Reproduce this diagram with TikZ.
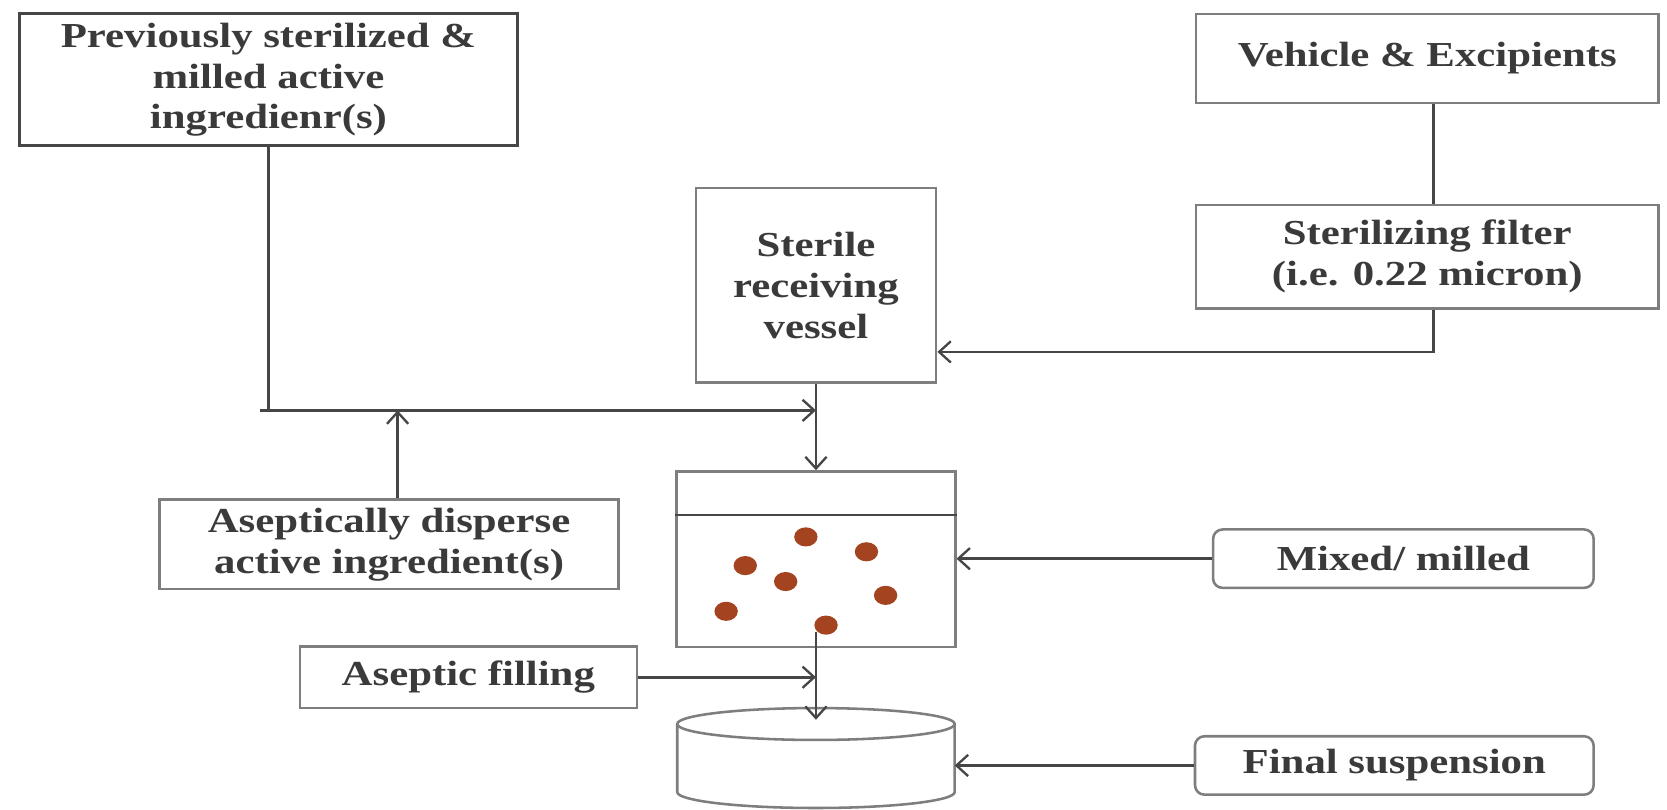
\documentclass[tikz,border=0pt]{standalone}
\usepackage{fontspec}
\setmainfont{Liberation Serif}[FakeStretch=1.22]
\usetikzlibrary{arrows.meta}
\definecolor{ink}{HTML}{3A3A3A}
\definecolor{edgegray}{HTML}{7E7E7E}
\definecolor{wiregray}{HTML}{464646}
\definecolor{grain}{HTML}{A3431F}
\begin{document}
\begin{tikzpicture}[x=1pt,y=-1pt,
  lbl/.style={font=\fontsize{33}{38.5}\selectfont\bfseries, text=ink, align=center, inner sep=0pt},
  box/.style={lbl, draw=edgegray, line width=2.4pt, rectangle},
  rbox/.style={box, rounded corners=9pt},
  link/.style={draw=wiregray, line width=2.6pt},
  arr/.style={link, -{Straight Barb[length=11pt,width=20pt,line width=2.2pt]}},
  vesselline/.style={draw=edgegray, line width=2.4pt},
]
\useasboundingbox (0,0) rectangle (1568,761);

% boxes
\node[box, draw=wiregray, line width=3pt, minimum width=469pt, minimum height=124pt] (prev) at (252.5,75)
  {Previously sterilized \&\\milled active\\ingredienr(s)};
\node[box, minimum width=435pt, minimum height=84pt] (vehicle) at (1342.5,55) {Vehicle \& Excipients};
\node[box, minimum width=435pt, minimum height=97pt] (filter) at (1342.5,241.5) {Sterilizing filter\\(i.e. 0.22 micron)};
\node[box, minimum width=226pt, minimum height=183pt] (sterile) at (767.5,268.5) {Sterile\\receiving\\vessel};
\node[box, minimum width=262pt, minimum height=165pt] (mix) at (767.5,526) {};
\node[box, minimum width=432pt, minimum height=84pt] (asep) at (366,512) {Aseptically disperse\\active ingredient(s)};
\node[rbox, minimum width=358pt, minimum height=55pt] (mixed) at (1320,525.5) {Mixed/ milled};
\node[box, minimum width=317pt, minimum height=58pt] (afill) at (440.5,637) {Aseptic filling};
\node[rbox, minimum width=375pt, minimum height=55pt] (final) at (1311.5,720) {Final suspension};

% mixing vessel contents
\draw[link] ([yshift=-42pt]mix.north west) -- ([yshift=-42pt]mix.north east);
\foreach \p in {(758,505),(815,519),(701,532),(739,547),(833,560),(683,575),(777,588)}
  \fill[grain] \p ellipse (11pt and 9pt);

% final container
\draw[vesselline] (637,681) -- (637,745)
  arc[start angle=180, end angle=360, x radius=130.5pt, y radius=15pt] -- (898,681);
\draw[vesselline] (767.5,681) ellipse (130.5pt and 15pt);

% reference points
\coordinate (stub) at (245,386);
\coordinate (feedlevel) at (0,331);
\coordinate (drop) at (767.5,594);
\coordinate (cyltop) at (767.5,677);
\coordinate (cylside) at (898,720);

% connectors
\draw[link] ([xshift=6pt]vehicle.south) -- ([xshift=6pt]filter.north);
\draw[arr] ([xshift=6pt]filter.south) |- (sterile.east |- feedlevel);
\draw[link] (prev.south) -- (prev.south |- stub);
\draw[arr] (stub) -- (stub -| sterile.south);
\draw[arr] ([xshift=8pt]asep.north) -- ([xshift=8pt]asep.north |- stub);
\draw[arr] (sterile.south) -- (mix.north);
\draw[arr] (mixed.west) -- (mixed.west -| mix.east);
\draw[arr] (drop) -- (cyltop);
\draw[arr] (afill.east) -- (afill.east -| drop);
\draw[arr] (final.west) -- (cylside);
\end{tikzpicture}
\end{document}
